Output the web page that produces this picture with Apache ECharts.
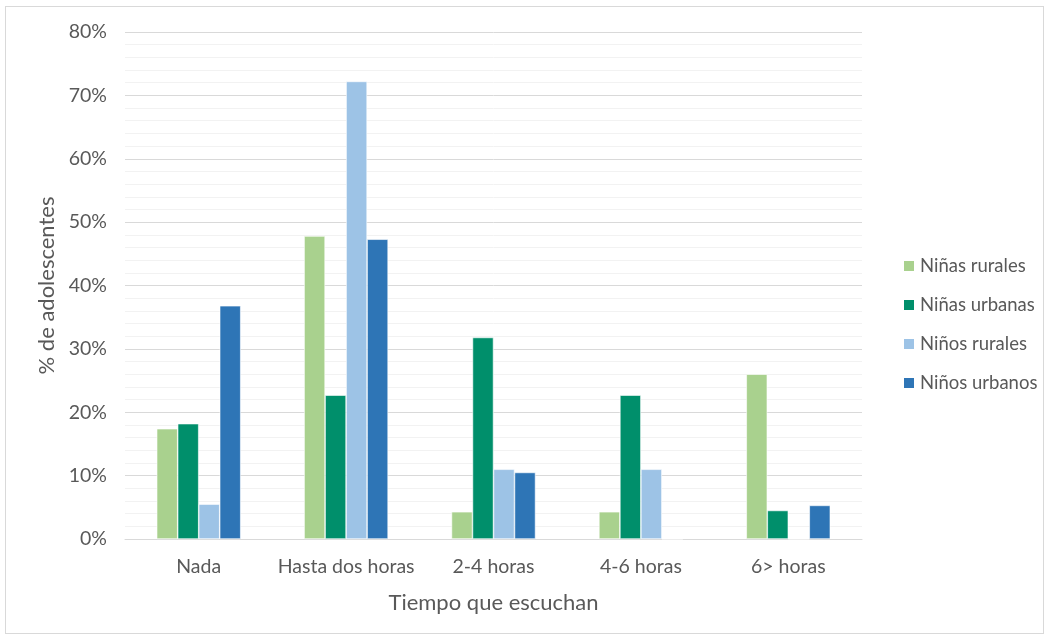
<!DOCTYPE html>
<html>
<head>
<meta charset="utf-8">
<script src="https://cdn.jsdelivr.net/npm/echarts@6/dist/echarts.min.js"></script>
<style>
  html, body { margin: 0; padding: 0; background: #fff; }
  #frame { position: absolute; left: 5px; top: 6px; width: 1039px; height: 628px; border: 1px solid #d9d9d9; box-sizing: border-box; }
  #chart { position: absolute; left: 0; top: 0; width: 1050px; height: 639px; }
</style>
</head>
<body>
<div id="frame"></div>
<div id="chart"></div>
<script>
// Tiempo que escuchan (categorías) y porcentaje de adolescentes por grupo
const categories = ['Nada', 'Hasta dos horas', '2-4 horas', '4-6 horas', '6> horas'];
const seriesNames = ['Niñas rurales', 'Niñas urbanas', 'Niños rurales', 'Niños urbanos'];
const ninasRurales  = [17.4, 47.8, 4.3, 4.3, 26.0];
const ninasUrbanas  = [18.2, 22.7, 31.8, 22.7, 4.5];
const ninosRurales  = [5.5, 72.2, 11.0, 11.0, 0];
const ninosUrbanos  = [36.8, 47.3, 10.5, 0, 5.3];
const colors = ['#a9d18e', '#008f6b', '#9dc3e6', '#2e75b6'];

const font = 'Lato, "Open Sans", sans-serif';
const textColor = '#595959';

const values = [ninasRurales, ninasUrbanas, ninosRurales, ninosUrbanos];

const chart = echarts.init(document.getElementById('chart'), null, { renderer: 'canvas' });
chart.setOption({
  animation: false,
  textStyle: { fontFamily: font, color: textColor },
  grid: { left: 125, right: 188, top: 32, bottom: 100, containLabel: false },
  legend: {
    orient: 'vertical',
    left: 897,
    top: 251,
    itemWidth: 12,
    itemHeight: 12,
    itemGap: 19,
    icon: 'rect',
    textStyle: { fontSize: 18.5, lineHeight: 20, color: textColor, fontFamily: font, padding: [0, 0, 0, 0] },
    data: seriesNames
  },
  xAxis: {
    type: 'category',
    data: categories,
    name: 'Tiempo que escuchan',
    nameLocation: 'middle',
    nameGap: 53,
    nameTextStyle: { fontSize: 22, color: textColor, fontFamily: font },
    axisLine: { lineStyle: { color: '#d9d9d9', width: 1 } },
    axisTick: { show: false },
    axisLabel: { interval: 0, fontSize: 19.5, color: textColor, margin: 18, fontFamily: font }
  },
  yAxis: {
    type: 'value',
    min: 0,
    max: 80,
    interval: 10,
    name: '% de adolescentes',
    nameLocation: 'middle',
    nameGap: 66,
    nameTextStyle: { fontSize: 22, color: textColor, fontFamily: font },
    axisLine: { show: false },
    axisTick: { show: false },
    axisLabel: { formatter: '{value}%', fontSize: 19.5, color: textColor, margin: 18, fontFamily: font },
    splitLine: { lineStyle: { color: '#d9d9d9', width: 1 } },
    minorTick: { show: false, splitNumber: 5 },
    minorSplitLine: { show: true, lineStyle: { color: '#f2f2f2', width: 1 } }
  },
  series: seriesNames.map((name, i) => ({
    name,
    type: 'bar',
    data: values[i],
    barGap: '0%',
    barCategoryGap: '43%',
    itemStyle: { color: colors[i], borderColor: '#ffffff', borderWidth: 0.6 }
  }))
});
</script>
</body>
</html>
